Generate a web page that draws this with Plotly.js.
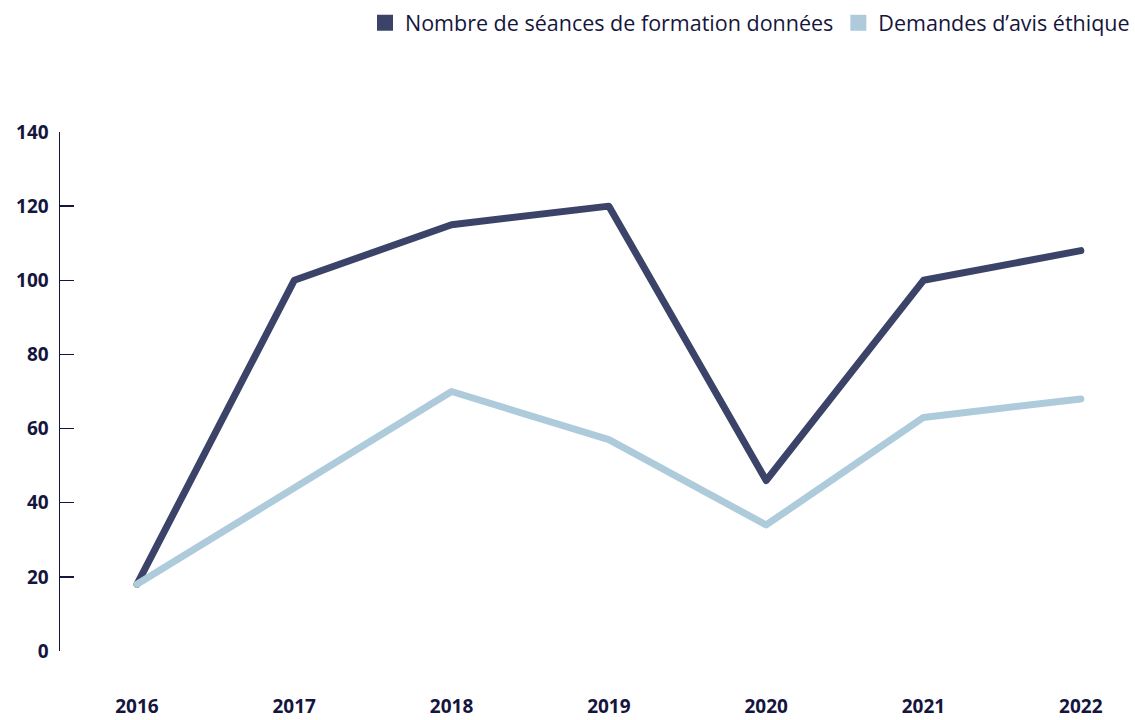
<!DOCTYPE html>
<html>
<head>
<meta charset="utf-8">
<script src="https://cdn.plot.ly/plotly-3.0.1.min.js"></script>
<style>
  body { margin: 0; background: #fff; }
  #chart { width: 1135px; height: 720px; }
  .scatterlayer .js-line { stroke-linejoin: round; stroke-linecap: round; }
</style>
</head>
<body>
<div id="chart"></div>
<script>
const years = [2016, 2017, 2018, 2019, 2020, 2021, 2022];
const seances = [18, 100, 115, 120, 46, 100, 108];
const demandes = [18, 44, 70, 57, 34, 63, 68];

const nameSeances = 'Nombre de séances de formation données';
const nameDemandes = 'Demandes d’avis éthique';
const darkColor = '#3b4468';
const lightColor = '#aecbdc';
const inkColor = '#15163d';

const data = [
  {
    x: years, y: seances, type: 'scatter', mode: 'lines',
    line: {color: darkColor, width: 7}, showlegend: false, hoverinfo: 'x+y'
  },
  {
    x: years, y: demandes, type: 'scatter', mode: 'lines',
    line: {color: lightColor, width: 7}, showlegend: false, hoverinfo: 'x+y'
  },
  // legend entries (square swatches)
  {
    x: [null], y: [null], type: 'scatter', mode: 'markers', name: nameSeances,
    marker: {symbol: 'square', size: 20, color: darkColor}
  },
  {
    x: [null], y: [null], type: 'scatter', mode: 'markers', name: nameDemandes,
    marker: {symbol: 'square', size: 20, color: lightColor}
  }
];

const layout = {
  width: 1135,
  height: 720,
  margin: {l: 60, r: 7, t: 132, b: 69},
  paper_bgcolor: '#fff',
  plot_bgcolor: '#fff',
  showlegend: true,
  legend: {
    orientation: 'h',
    xref: 'container', yref: 'container',
    x: 1, xanchor: 'right',
    y: 0.997, yanchor: 'top',
    font: {family: 'Open Sans, sans-serif', size: 21.5, color: inkColor},
    itemwidth: 30,
    tracegroupgap: 0
  },
  xaxis: {
    range: [2015.511, 2022.3],
    tickvals: years,
    ticktext: years.map(String),
    showgrid: false,
    zeroline: false,
    showline: false,
    ticks: '',
    ticklabelstandoff: 42,
    tickfont: {family: 'Open Sans, sans-serif', size: 19, color: inkColor, weight: 'bold'}
  },
  yaxis: {
    range: [0, 140],
    tickvals: [0, 20, 40, 60, 80, 100, 120, 140],
    showgrid: false,
    zeroline: false,
    showline: true,
    linecolor: inkColor,
    linewidth: 1.5,
    ticks: 'inside',
    ticklen: 14,
    tickwidth: 1.5,
    tickcolor: inkColor,
    ticklabelstandoff: 6,
    tickfont: {family: 'Open Sans, sans-serif', size: 19, color: inkColor, weight: 'bold'}
  }
};

Plotly.newPlot('chart', data, layout, {displayModeBar: false, staticPlot: true});
</script>
</body>
</html>
